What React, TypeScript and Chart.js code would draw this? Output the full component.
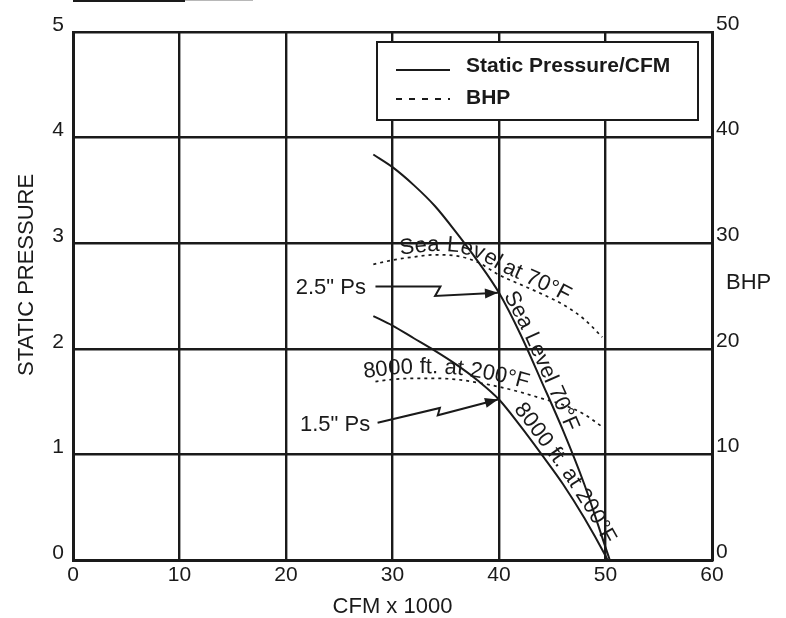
import React, { useEffect, useRef } from "react";
import { Chart, registerables } from "chart.js";

Chart.register(...registerables);

// CFM x 1000 values for each curve
const seaLevelSpX = [28.2, 30, 32, 34, 36, 38, 40, 42, 44, 46, 48, 50, 50.4];
const seaLevelSp = [3.84, 3.72, 3.55, 3.35, 3.1, 2.83, 2.53, 2.14, 1.69, 1.23, 0.72, 0.12, 0];
const altSpX = [28.2, 30, 32, 34, 36, 38, 40, 42, 44, 46, 48, 50, 50.2];
const altSp = [2.31, 2.22, 2.1, 1.98, 1.85, 1.7, 1.52, 1.27, 1.0, 0.72, 0.4, 0.04, 0];
const seaLevelBhpX = [28.2, 30, 32, 34, 36, 38, 40, 42, 44, 46, 48, 49.7];
const seaLevelBhp = [28.0, 28.4, 28.7, 28.9, 28.8, 28.2, 27.0, 26.1, 25.2, 24.2, 22.8, 21.1];
const altBhpX = [28.4, 30, 32, 34, 36, 38, 40, 42, 44, 46, 48, 49.7];
const altBhp = [16.9, 17.1, 17.2, 17.2, 17.1, 16.8, 16.4, 15.9, 15.3, 14.7, 13.8, 12.6];

const xTicks = [0, 10, 20, 30, 40, 50, 60];
const yTicks = [0, 1, 2, 3, 4, 5];
const bhpTicks = [0, 10, 20, 30, 40, 50];

const legendLabels = ["Static Pressure/CFM", "BHP"];
const xTitle = "CFM x 1000";
const yTitle = "STATIC PRESSURE";
const y1Title = "BHP";

// pointer labels with zig-zag arrows
const psLabels = ['2.5" Ps', '1.5" Ps'];
const psLabelX = [27.5, 27.9];
const psLabelY = [2.575, 1.28];
const psArrowX = [
  [28.4, 34.5, 34.0, 39.9],
  [28.6, 34.45, 34.25, 39.9],
];
const psArrowY = [
  [2.59, 2.59, 2.5, 2.53],
  [1.3, 1.44, 1.37, 1.52],
];

// curve labels: text, dataset index, start x, offset
const curveLabels = ["Sea Level at 70°F", "Sea Level 70°F", "8000 ft. at 200°F", "8000 ft. at 200°F"];
const curveLabelDataset = [2, 0, 1, 3];
const curveLabelStartX = [30.8, 40.2, 41.0, 27.4];
const curveLabelOffset = [4, 3, 5, 5];

const INK = "#1a1a1a";
const FONT = "'Liberation Sans', Arial, sans-serif";

function toPts(xs: number[], ys: number[]) {
  return xs.map((x, i) => ({ x, y: ys[i] }));
}

function drawTextOnPath(ctx: CanvasRenderingContext2D, pts: { x: number; y: number }[], text: string, startPx: number, offset: number) {
  const cum: number[] = [0];
  for (let i = 1; i < pts.length; i++) {
    cum.push(cum[i - 1] + Math.hypot(pts[i].x - pts[i - 1].x, pts[i].y - pts[i - 1].y));
  }
  const total = cum[cum.length - 1];
  const pointAt = (s: number) => {
    if (s <= 0) {
      const a = pts[0], b = pts[1];
      const L = cum[1];
      return { x: a.x + ((b.x - a.x) * s) / L, y: a.y + ((b.y - a.y) * s) / L };
    }
    if (s >= total) {
      const a = pts[pts.length - 2], b = pts[pts.length - 1];
      const L = total - cum[cum.length - 2];
      const e = s - total;
      return { x: b.x + ((b.x - a.x) * e) / L, y: b.y + ((b.y - a.y) * e) / L };
    }
    let i = 1;
    while (cum[i] < s) i++;
    const t = (s - cum[i - 1]) / (cum[i] - cum[i - 1]);
    return { x: pts[i - 1].x + (pts[i].x - pts[i - 1].x) * t, y: pts[i - 1].y + (pts[i].y - pts[i - 1].y) * t };
  };
  let s0 = 0;
  if (startPx < pts[0].x) {
    const a = pts[0], b = pts[1];
    const dx = (b.x - a.x) / cum[1];
    s0 = (startPx - a.x) / dx;
  } else {
    for (let i = 1; i < pts.length; i++) {
      if (pts[i].x >= startPx) {
        const t = (startPx - pts[i - 1].x) / (pts[i].x - pts[i - 1].x);
        s0 = cum[i - 1] + t * (cum[i] - cum[i - 1]);
        break;
      }
    }
  }
  let s = s0;
  for (const ch of text) {
    const w = ctx.measureText(ch).width;
    const sc = s + w / 2;
    const p = pointAt(sc);
    const p1 = pointAt(sc - 7);
    const p2 = pointAt(sc + 7);
    const ang = Math.atan2(p2.y - p1.y, p2.x - p1.x);
    ctx.save();
    ctx.translate(p.x, p.y);
    ctx.rotate(ang);
    ctx.fillText(ch, -w / 2, -offset);
    ctx.restore();
    s += w;
  }
}

const decorPlugin = {
  id: "decor",
  afterDraw(chart: any) {
    const ctx: CanvasRenderingContext2D = chart.ctx;
    const ca = chart.chartArea;
    const xs = chart.scales.x;
    const ys = chart.scales.y;
    ctx.save();
    ctx.fillStyle = INK;
    ctx.strokeStyle = INK;

    // scan residue at top
    ctx.fillRect(ca.left, 0, 112, 2);
    ctx.fillStyle = "#b8b8b8";
    ctx.fillRect(ca.left + 112, 0, 68, 1);
    ctx.fillStyle = INK;

    // axis titles
    ctx.font = `22px ${FONT}`;
    ctx.textAlign = "center";
    ctx.textBaseline = "middle";
    ctx.fillText(xTitle, (ca.left + ca.right) / 2, 607);
    ctx.save();
    ctx.translate(27, ca.top + (ca.bottom - ca.top) * 0.46);
    ctx.rotate(-Math.PI / 2);
    ctx.fillText(yTitle, 0, 0);
    ctx.restore();
    ctx.textAlign = "left";
    ctx.fillText(y1Title, ca.right + 14, 283);

    // legend
    const lx = ca.left + 304, ly = ca.top + 10, lr = ca.right - 14, lb = ca.top + 88;
    ctx.fillStyle = "#ffffff";
    ctx.fillRect(lx, ly, lr - lx, lb - ly);
    ctx.lineWidth = 2;
    ctx.strokeRect(lx, ly, lr - lx, lb - ly);
    ctx.fillStyle = INK;
    ctx.lineWidth = 2;
    ctx.beginPath();
    ctx.moveTo(lx + 19, ly + 28);
    ctx.lineTo(lx + 73, ly + 28);
    ctx.stroke();
    ctx.setLineDash([6, 7]);
    ctx.beginPath();
    ctx.moveTo(lx + 19, ly + 57);
    ctx.lineTo(lx + 73, ly + 57);
    ctx.stroke();
    ctx.setLineDash([]);
    ctx.font = `bold 21px ${FONT}`;
    ctx.textAlign = "left";
    ctx.textBaseline = "middle";
    ctx.fillText(legendLabels[0], lx + 89, ly + 24);
    ctx.fillText(legendLabels[1], lx + 89, ly + 56);

    // pointer labels and arrows
    ctx.font = `22px ${FONT}`;
    ctx.textAlign = "right";
    ctx.textBaseline = "middle";
    ctx.lineWidth = 2;
    psLabels.forEach((lab, i) => {
      ctx.fillText(lab, xs.getPixelForValue(psLabelX[i]), ys.getPixelForValue(psLabelY[i]));
      const px = psArrowX[i].map((v) => xs.getPixelForValue(v));
      const py = psArrowY[i].map((v) => ys.getPixelForValue(v));
      ctx.beginPath();
      ctx.moveTo(px[0], py[0]);
      for (let k = 1; k < px.length; k++) ctx.lineTo(px[k], py[k]);
      ctx.stroke();
      const n = px.length - 1;
      const ang = Math.atan2(py[n] - py[n - 1], px[n] - px[n - 1]);
      ctx.save();
      ctx.translate(px[n], py[n]);
      ctx.rotate(ang);
      ctx.beginPath();
      ctx.moveTo(0, 0);
      ctx.lineTo(-13, -5);
      ctx.lineTo(-13, 5);
      ctx.closePath();
      ctx.fill();
      ctx.restore();
    });

    // curve labels
    ctx.font = `22px ${FONT}`;
    ctx.textAlign = "left";
    ctx.textBaseline = "alphabetic";
    curveLabels.forEach((txt, i) => {
      const ds = chart.data.datasets[curveLabelDataset[i]];
      const yScale = chart.scales[ds.yAxisID];
      const pts = ds.data.map((d: any) => ({ x: xs.getPixelForValue(d.x), y: yScale.getPixelForValue(d.y) }));
      drawTextOnPath(ctx, pts, txt, xs.getPixelForValue(curveLabelStartX[i]), curveLabelOffset[i]);
    });
    ctx.restore();
  },
};

export default function App() {
  const ref = useRef<HTMLCanvasElement>(null);
  useEffect(() => {
    if (!ref.current) return;
    const line = (data: any, axis: string, dashed: boolean) => ({
      data,
      yAxisID: axis,
      showLine: true,
      borderColor: INK,
      borderWidth: dashed ? 1.7 : 2,
      borderDash: dashed ? [3, 4] : [],
      pointRadius: 0,
      cubicInterpolationMode: "monotone" as const,
      fill: false,
    });
    const tickFont = { family: FONT, size: 21 };
    const chart = new Chart(ref.current, {
      type: "scatter",
      data: {
        datasets: [
          line(toPts(seaLevelSpX, seaLevelSp), "y", false),
          line(toPts(altSpX, altSp), "y", false),
          line(toPts(seaLevelBhpX, seaLevelBhp), "y1", true),
          line(toPts(altBhpX, altBhp), "y1", true),
        ],
      },
      options: {
        animation: false,
        responsive: false,
        devicePixelRatio: 1,
        layout: { padding: { top: 32, left: 0, right: 0, bottom: 0 } },
        plugins: { legend: { display: false }, tooltip: { enabled: false } },
        scales: {
          x: {
            type: "linear",
            min: 0,
            max: 60,
            afterBuildTicks: (s: any) => { s.ticks = xTicks.map((v) => ({ value: v })); },
            afterFit: (s: any) => { s.height = 58; },
            ticks: { font: tickFont, color: INK, padding: 3, maxRotation: 0 },
            grid: { color: INK, lineWidth: 2.4, drawTicks: false },
            border: { display: true, color: INK, width: 3 },
          },
          y: {
            position: "left",
            min: 0,
            max: 5,
            afterBuildTicks: (s: any) => { s.ticks = yTicks.map((v) => ({ value: v })); },
            afterFit: (s: any) => { s.width = 73; },
            ticks: { font: tickFont, color: INK, padding: 9, labelOffset: -7 },
            grid: { color: INK, lineWidth: 2.4, drawTicks: false },
            border: { display: true, color: INK, width: 3 },
          },
          y1: {
            position: "right",
            min: 0,
            max: 50,
            afterBuildTicks: (s: any) => { s.ticks = bhpTicks.map((v) => ({ value: v })); },
            afterFit: (s: any) => { s.width = 74; },
            ticks: { font: tickFont, color: INK, padding: 4, labelOffset: -8 },
            grid: { display: false, drawTicks: false },
            border: { display: true, color: INK, width: 3 },
          },
        },
      },
      plugins: [decorPlugin],
    });
    return () => chart.destroy();
  }, []);
  return (
    <div style={{ position: "fixed", left: 0, top: 0, width: 786, height: 618, background: "#fff" }}>
      <canvas ref={ref} width={786} height={618} style={{ display: "block" }} />
    </div>
  );
}
